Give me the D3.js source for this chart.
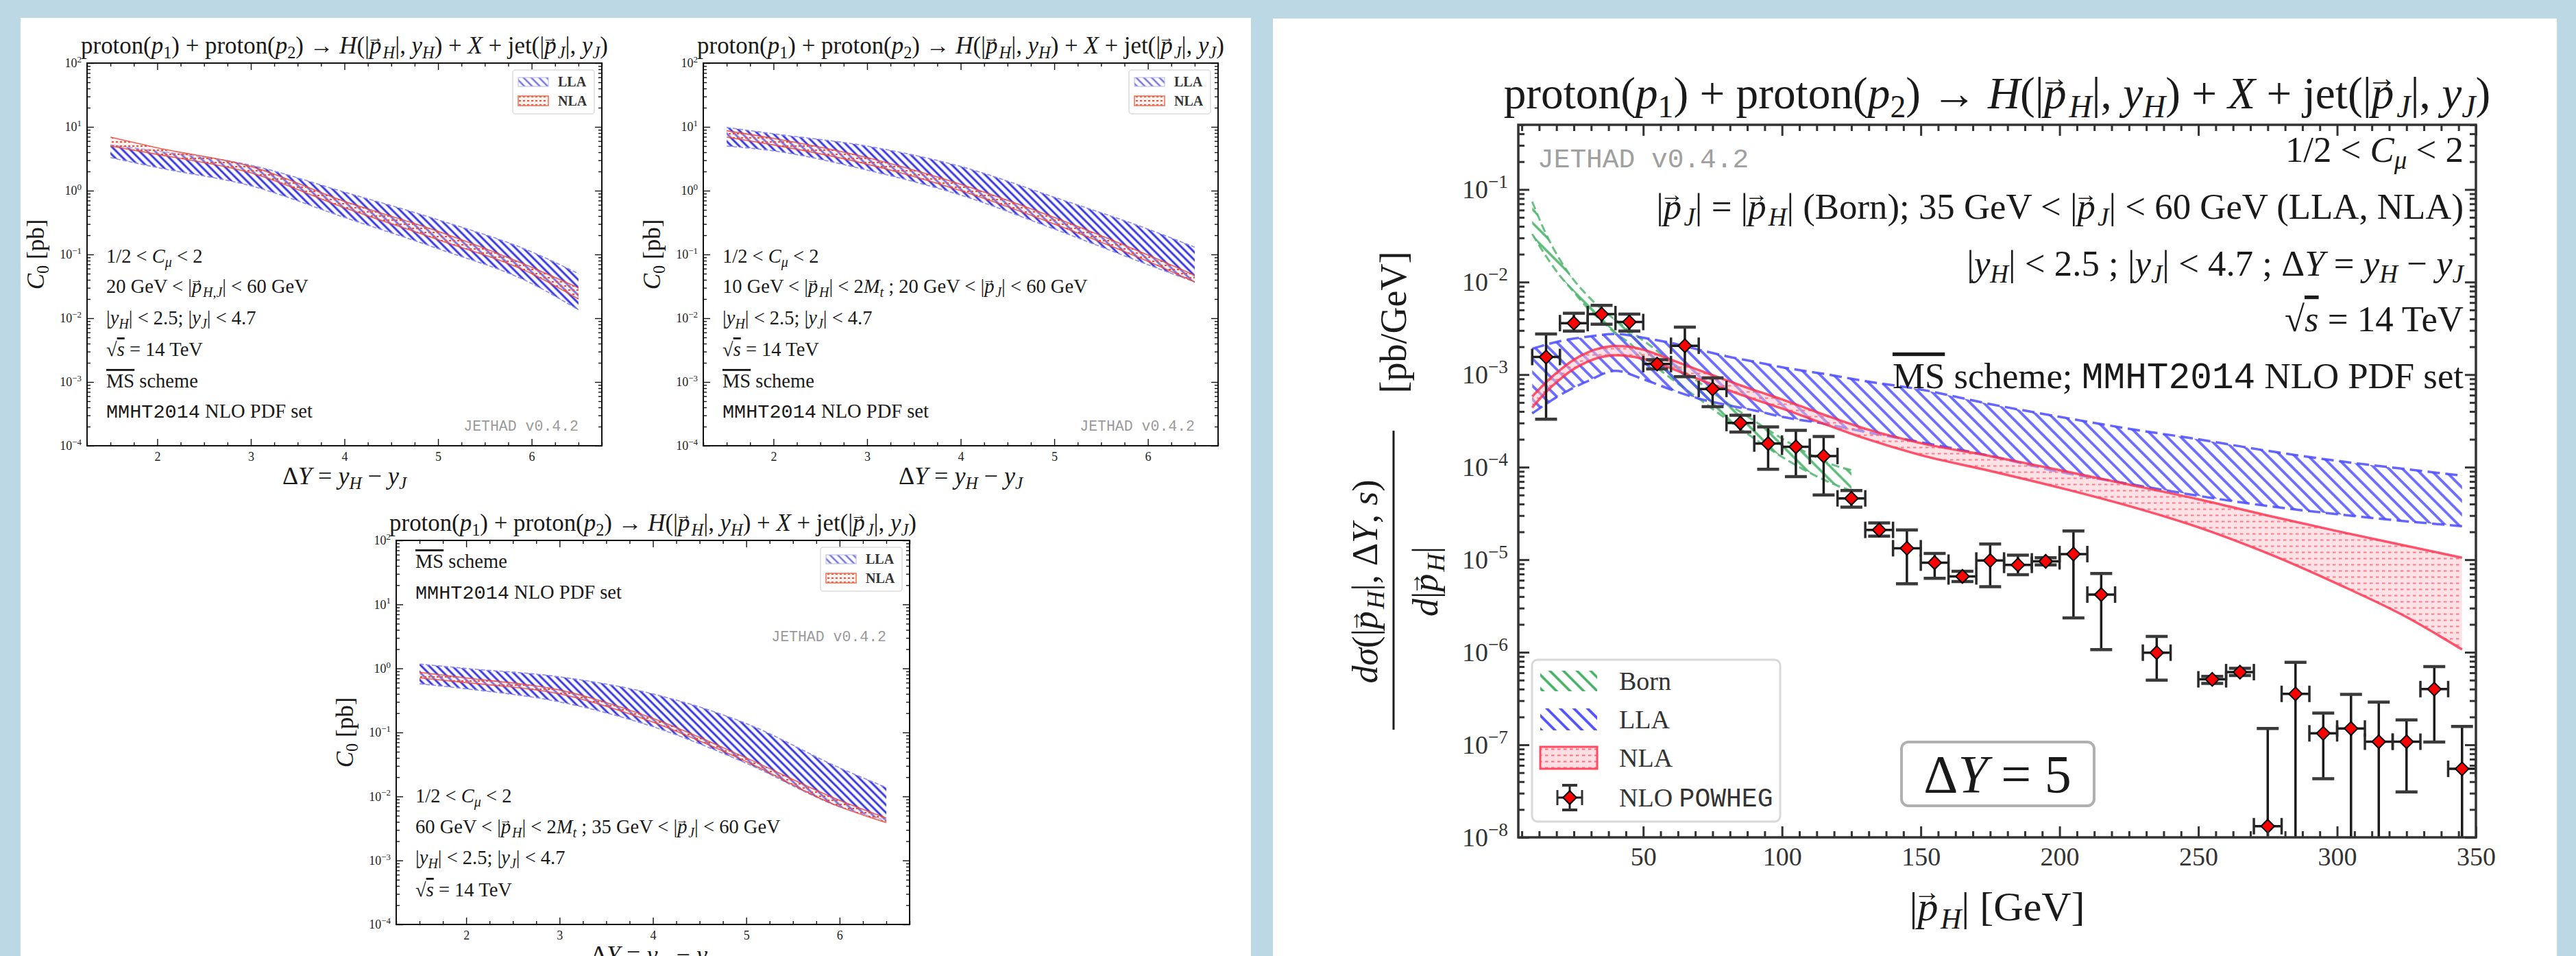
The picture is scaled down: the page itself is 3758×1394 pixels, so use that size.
<!DOCTYPE html>
<html>
<head>
<meta charset="utf-8">
<script src="https://cdn.jsdelivr.net/npm/d3@7"></script>
<style>
  html, body { margin: 0; padding: 0; background: #bcd8e4; }
  svg { display: block; }
</style>
</head>
<body>
<svg id="fig" width="3758" height="1394"></svg>
<script>
// ---------- left block: C0 vs ΔY, three panels ----------
const deltaY = [1.5, 2, 3, 4, 5, 6, 6.5];

// panel A: 20 GeV < |p_H,J| < 60 GeV
const aLlaHi = [5.2, 4.2, 2.5, 0.95, 0.35, 0.11, 0.050];
const aLlaLo = [3.3, 2.3, 1.19, 0.38, 0.123, 0.035, 0.0135];
const aNlaHi = [6.9, 4.7, 2.4, 0.68, 0.23, 0.063, 0.030];
const aNlaLo = [5.0, 3.7, 1.9, 0.54, 0.17, 0.050, 0.020];

// panel B: 10 GeV < |p_H| < 2M_t ; 20 GeV < |p_J| < 60 GeV
const bLlaHi = [9.8, 7.8, 5.0, 2.4, 0.79, 0.25, 0.13];
const bLlaLo = [5.0, 4.2, 2.1, 0.85, 0.25, 0.069, 0.037];
const bNlaHi = [8.7, 6.6, 3.3, 1.26, 0.38, 0.098, 0.047];
const bNlaLo = [6.9, 5.2, 2.6, 1.0, 0.30, 0.078, 0.037];

// panel C: 60 GeV < |p_H| < 2M_t ; 35 GeV < |p_J| < 60 GeV
const cLlaHi = [1.17, 1.0, 0.74, 0.40, 0.138, 0.028, 0.0138];
const cLlaLo = [0.575, 0.48, 0.30, 0.123, 0.033, 0.0069, 0.0042];
const cNlaHi = [0.87, 0.71, 0.46, 0.166, 0.040, 0.0087, 0.0046];
const cNlaLo = [0.71, 0.60, 0.40, 0.145, 0.035, 0.0069, 0.0039];

const dyTicks = [2, 3, 4, 5, 6];

// ---------- right block: dσ/d|p_H| at ΔY = 5 ----------
const bornPt = [10, 15, 20, 25, 30, 35, 40, 45, 50, 60, 70, 80, 90, 100, 110, 120, 125];
const bornHi = [7.4e-2, 3.3e-2, 1.74e-2, 1.05e-2, 7.1e-3, 5.1e-3, 3.9e-3, 3.0e-3, 2.34e-3, 1.38e-3, 8.3e-4, 5.0e-4, 3.16e-4, 2.04e-4, 1.38e-4, 1.02e-4, 9.3e-5];
const bornLo = [3.3e-2, 1.9e-2, 1.17e-2, 7.8e-3, 5.2e-3, 3.8e-3, 2.8e-3, 2.2e-3, 1.58e-3, 9.1e-4, 5.5e-4, 3.3e-4, 2.04e-4, 1.29e-4, 8.7e-5, 6.3e-5, 5.6e-5];

const llaPt = [10, 20, 30, 40, 50, 60, 70, 80, 90, 100, 115, 130, 150, 175, 200, 225, 250, 275, 300, 325, 345];
const llaHi = [1.9e-3, 2.3e-3, 2.57e-3, 2.75e-3, 2.5e-3, 2.2e-3, 1.86e-3, 1.58e-3, 1.38e-3, 1.2e-3, 1.02e-3, 8.5e-4, 6.9e-4, 4.8e-4, 3.5e-4, 2.6e-4, 2.0e-4, 1.5e-4, 1.17e-4, 9.5e-5, 8.1e-5];
const llaLo = [3.8e-4, 6.0e-4, 8.5e-4, 1.1e-3, 8.9e-4, 6.9e-4, 5.5e-4, 4.7e-4, 4.1e-4, 3.5e-4, 2.95e-4, 2.4e-4, 1.86e-4, 1.32e-4, 8.9e-5, 6.6e-5, 4.9e-5, 3.8e-5, 3.1e-5, 2.6e-5, 2.3e-5];

const nlaPt = [10, 15, 20, 25, 30, 35, 40, 45, 50, 60, 70, 80, 90, 100, 115, 130, 150, 175, 200, 225, 250, 275, 300, 325, 345];
const nlaHi = [5.8e-4, 8.3e-4, 1.12e-3, 1.45e-3, 1.74e-3, 1.95e-3, 2.04e-3, 2.0e-3, 1.86e-3, 1.45e-3, 1.12e-3, 8.7e-4, 6.8e-4, 5.4e-4, 3.7e-4, 2.6e-4, 1.82e-4, 1.32e-4, 9.3e-5, 6.5e-5, 4.5e-5, 3.0e-5, 2.04e-5, 1.41e-5, 1.05e-5];
const nlaLo = [4.4e-4, 6.5e-4, 8.9e-4, 1.15e-3, 1.38e-3, 1.55e-3, 1.62e-3, 1.58e-3, 1.48e-3, 1.17e-3, 8.9e-4, 6.9e-4, 5.4e-4, 4.3e-4, 2.95e-4, 2.04e-4, 1.35e-4, 9.1e-5, 6.0e-5, 3.8e-5, 2.24e-5, 1.17e-5, 5.5e-6, 2.4e-6, 1.07e-6];

const powhegPt = [15, 25, 35, 45, 55, 65, 75, 85, 95, 105, 115, 125, 135, 145, 155, 165, 175, 185, 195, 205, 215, 235, 255, 265, 275, 285, 295, 305, 315, 325, 335, 345];
const powhegVal = [1.55e-3, 3.6e-3, 4.5e-3, 3.7e-3, 1.3e-3, 2.05e-3, 7.0e-4, 3.0e-4, 1.8e-4, 1.66e-4, 1.32e-4, 4.6e-5, 2.1e-5, 1.33e-5, 9.3e-6, 6.6e-6, 9.8e-6, 8.8e-6, 9.6e-6, 1.15e-5, 4.2e-6, 9.9e-7, 5.1e-7, 6.1e-7, 1.32e-8, 3.55e-7, 1.33e-7, 1.5e-7, 1.08e-7, 1.08e-7, 4.0e-7, 5.5e-8];
const powhegHi = [2.75e-3, 4.6e-3, 5.6e-3, 4.5e-3, 1.45e-3, 3.26e-3, 9.2e-4, 3.64e-4, 2.72e-4, 2.5e-4, 2.14e-4, 5.6e-5, 2.5e-5, 2.1e-5, 1.17e-5, 7.5e-6, 1.48e-5, 1.12e-5, 1.05e-5, 2.04e-5, 7.1e-6, 1.48e-6, 5.5e-7, 6.7e-7, 1.5e-7, 7.8e-7, 2.2e-7, 3.5e-7, 2.9e-7, 1.86e-7, 7.0e-7, 1.58e-7];
const powhegLo = [3.3e-4, 2.95e-3, 3.5e-3, 2.95e-3, 1.15e-3, 9.5e-4, 4.5e-4, 2.4e-4, 9.5e-5, 7.9e-5, 5.0e-5, 3.7e-5, 1.8e-5, 5.5e-6, 6.3e-6, 5.8e-6, 5.1e-6, 6.9e-6, 8.8e-6, 2.35e-6, 1.07e-6, 5.0e-7, 4.6e-7, 5.6e-7, 1e-9, 1e-9, 4.3e-8, 1e-9, 1e-9, 3.1e-8, 1.07e-7, 1e-9];
const binHalf = 5;

const pTicks = [50, 100, 150, 200, 250, 300, 350];

const SERIF = "'Liberation Serif', 'DejaVu Serif', serif";
const MONO = "'Liberation Mono', 'DejaVu Sans Mono', monospace";

const svg = d3.select("#fig");
const defs = svg.append("defs");

// white cards behind the two blocks
svg.append("rect").attr("x", 30).attr("y", 26).attr("width", 1795).attr("height", 1380).attr("fill", "#fff");
svg.append("rect").attr("x", 1857).attr("y", 27).attr("width", 1873).attr("height", 1380).attr("fill", "#fff");

// ---------- patterns ----------
function hatch(id, size, color, width) {
    const p = defs.append("pattern")
        .attr("id", id)
        .attr("patternUnits", "userSpaceOnUse")
        .attr("width", size).attr("height", size)
        .attr("patternTransform", "rotate(-45)");
    p.append("line")
        .attr("x1", size / 2).attr("y1", -1)
        .attr("x2", size / 2).attr("y2", size + 1)
        .attr("stroke", color).attr("stroke-width", width);
}

function dots(id, size, bg, bgOpacity, color) {
    const p = defs.append("pattern")
        .attr("id", id)
        .attr("patternUnits", "userSpaceOnUse")
        .attr("width", size).attr("height", size);
    p.append("rect").attr("width", size).attr("height", size)
        .attr("fill", bg).attr("fill-opacity", bgOpacity);
    p.append("rect")
        .attr("x", 1).attr("y", size / 2 - 1)
        .attr("width", size / 2).attr("height", 2)
        .attr("fill", color);
}

hatch("llaS", 8, "#2020d8", 3);
hatch("llaLeg", 8, "#7878dc", 2.6);
dots("nlaS", 6, "#fbd6cc", 0.35, "#ee5040");
hatch("llaL", 14, "#5050ff", 3.8);
hatch("bornL", 14, "#3fae60", 3.5);
dots("nlaL", 9, "#ffc4cc", 0.55, "#ff6a7c");

// ---------- text helper (roman / italic / sub / sup / vector / mono / overline) ----------
function rich(parent, x, y, size, segs, opt = {}) {
    const t = parent.append("text")
        .attr("x", x).attr("y", y)
        .attr("font-family", SERIF)
        .attr("font-size", size)
        .attr("text-anchor", opt.anchor || "start")
        .attr("fill", opt.fill || "#1a1a1a");
    let shift = 0;
    segs.forEach(([str, k]) => {
        const small = k.includes("s") || k.includes("u");
        const fs = small ? size * 0.7 : size;
        const target = k.includes("s") ? size * 0.2 : (k.includes("u") ? -size * 0.4 : 0);
        const sp = t.append("tspan")
            .attr("dy", target - shift)
            .attr("font-size", fs)
            .attr("font-style", /[iv]/.test(k) ? "italic" : "normal")
            .text(str);
        if (k.includes("m")) sp.attr("font-family", MONO);
        if (k.includes("o")) sp.attr("text-decoration", "overline");
        shift = target;
        if (k.includes("v")) {
            t.append("tspan")
                .attr("dx", -0.6 * fs).attr("dy", -0.46 * fs)
                .attr("font-size", fs * 0.66).attr("font-style", "normal")
                .text("→");
            shift = target - 0.46 * fs;
        }
    });
    return t;
}

function fitSize(segs, width) {
    const t = rich(svg, 0, -1000, 100, segs);
    const w = t.node().getBBox().width;
    t.remove();
    return 100 * width / w;
}

// ---------- shared text ----------
const titleSegs = [["proton(", ""], ["p", "i"], ["1", "s"], [") + proton(", ""], ["p", "i"], ["2", "s"],
    [") → ", ""], ["H", "i"], ["(|", ""], ["p", "v"], ["H", "si"], ["|, ", ""], ["y", "i"], ["H", "si"],
    [") + ", ""], ["X", "i"], [" + jet(|", ""], ["p", "v"], ["J", "si"], ["|, ", ""], ["y", "i"], ["J", "si"], [")", ""]];
const cmuSegs = [["1/2 < ", ""], ["C", "i"], ["μ", "si"], [" < 2", ""]];
const rapSegs = [["|", ""], ["y", "i"], ["H", "si"], ["| < 2.5;  |", ""], ["y", "i"], ["J", "si"], ["| < 4.7", ""]];
const sqrtSegs = [["√", ""], ["s", "io"], [" = 14 TeV", ""]];
const msSegs = [["MS", "o"], [" scheme", ""]];
const pdfSegs = [["MMHT2014", "m"], [" NLO PDF set", ""]];
const cutA = [["20 GeV < |", ""], ["p", "v"], ["H,J", "si"], ["| < 60 GeV", ""]];
const cutB = [["10 GeV < |", ""], ["p", "v"], ["H", "si"], ["| < 2", ""], ["M", "i"], ["t", "si"],
    [" ; 20 GeV < |", ""], ["p", "v"], ["J", "si"], ["| < 60 GeV", ""]];
const cutC = [["60 GeV < |", ""], ["p", "v"], ["H", "si"], ["| < 2", ""], ["M", "i"], ["t", "si"],
    [" ; 35 GeV < |", ""], ["p", "v"], ["J", "si"], ["| < 60 GeV", ""]];

const smallTitleSize = fitSize(titleSegs, 769);
const smallAnnSize = fitSize(cutB, 533);

const isPow10 = d => Math.abs(Math.log10(d) - Math.round(Math.log10(d))) < 1e-9;

function supLabels(sel, supSize) {
    sel.selectAll(".tick text").each(function (d) {
        const e = Math.round(Math.log10(d));
        const t = d3.select(this).text("10");
        t.append("tspan").attr("dy", "-0.55em").attr("font-size", supSize)
            .text(e < 0 ? "−" + (-e) : String(e));
    });
}

// inward ticks on all four sides, plus frame
function frame(g, x, y, o) {
    const [L, R] = x.range();
    const [B, T] = y.range();
    const yAll = y.ticks();
    const yMajor = yAll.filter(isPow10);
    const yMinor = yAll.filter(d => !isPow10(d));

    g.append("g").attr("transform", `translate(0,${B})`)
        .call(d3.axisBottom(x).tickValues(o.xMajor).tickSizeInner(-o.big).tickSizeOuter(0)
            .tickPadding(o.xPad).tickFormat(d3.format("d")));
    g.append("g").attr("transform", `translate(0,${B})`)
        .call(d3.axisBottom(x).tickValues(o.xMinor).tickSizeInner(-o.small).tickSizeOuter(0).tickFormat(""));
    g.append("g").attr("transform", `translate(0,${T})`)
        .call(d3.axisTop(x).tickValues(o.xMajor).tickSizeInner(-o.big).tickSizeOuter(0).tickFormat(""));
    g.append("g").attr("transform", `translate(0,${T})`)
        .call(d3.axisTop(x).tickValues(o.xMinor).tickSizeInner(-o.small).tickSizeOuter(0).tickFormat(""));

    const left = g.append("g").attr("transform", `translate(${L},0)`)
        .call(d3.axisLeft(y).tickValues(yMajor).tickSizeInner(-o.big).tickSizeOuter(0).tickPadding(o.yPad));
    g.append("g").attr("transform", `translate(${L},0)`)
        .call(d3.axisLeft(y).tickValues(yMinor).tickSizeInner(-o.small).tickSizeOuter(0).tickFormat(""));
    g.append("g").attr("transform", `translate(${R},0)`)
        .call(d3.axisRight(y).tickValues(yMajor).tickSizeInner(-o.big).tickSizeOuter(0).tickFormat(""));
    g.append("g").attr("transform", `translate(${R},0)`)
        .call(d3.axisRight(y).tickValues(yMinor).tickSizeInner(-o.small).tickSizeOuter(0).tickFormat(""));

    g.selectAll(".domain").remove();
    g.selectAll(".tick line").attr("stroke", o.color).attr("stroke-width", o.tickWidth);
    g.selectAll(".tick text").attr("font-family", SERIF).attr("font-size", o.labelSize).attr("fill", o.labelColor);
    supLabels(left, o.labelSize * 0.72);

    g.append("rect")
        .attr("x", L).attr("y", T).attr("width", R - L).attr("height", B - T)
        .attr("fill", "none").attr("stroke", o.color).attr("stroke-width", o.frameWidth);
}

// ---------- small panels ----------
function smallPanel(p) {
    const g = svg.append("g");
    const x = d3.scaleLinear().domain([1.25, 6.75]).range([p.left, p.right]);
    const y = d3.scaleLog().domain([1e-4, 1e2]).range([p.bottom, p.top]);

    const clipId = "clip" + p.id;
    defs.append("clipPath").attr("id", clipId)
        .append("rect").attr("x", p.left).attr("y", p.top)
        .attr("width", p.right - p.left).attr("height", p.bottom - p.top);
    const plot = g.append("g").attr("clip-path", `url(#${clipId})`);

    const band = (hi, lo) => d3.area().curve(d3.curveMonotoneX)
        .x((d, i) => x(deltaY[i])).y0((d, i) => y(lo[i])).y1((d, i) => y(hi[i]));
    const edge = arr => d3.line().curve(d3.curveMonotoneX).x((d, i) => x(deltaY[i])).y((d, i) => y(arr[i]));

    plot.append("path").datum(deltaY).attr("d", band(p.llaHi, p.llaLo)).attr("fill", "url(#llaS)").attr("opacity", 0.9);
    [p.llaHi, p.llaLo].forEach(arr => plot.append("path").datum(deltaY).attr("d", edge(arr))
        .attr("fill", "none").attr("stroke", "#8d8df0").attr("stroke-width", 1.6).attr("stroke-dasharray", "6,3"));
    plot.append("path").datum(deltaY).attr("d", band(p.nlaHi, p.nlaLo)).attr("fill", "url(#nlaS)");
    [p.nlaHi, p.nlaLo].forEach(arr => plot.append("path").datum(deltaY).attr("d", edge(arr))
        .attr("fill", "none").attr("stroke", "#f0453a").attr("stroke-width", 1.6).attr("opacity", 0.85));

    frame(g, x, y, {
        xMajor: dyTicks,
        xMinor: d3.range(1.25, 6.76, 0.25).filter(d => Math.abs(d - Math.round(d)) > 1e-6),
        big: 10, small: 5, xPad: 9, yPad: 8,
        color: "#111", tickWidth: 1.4, frameWidth: 2,
        labelSize: 18, labelColor: "#222"
    });

    // titles and axis labels
    rich(g, (p.left + p.right) / 2, p.top - 14, smallTitleSize, titleSegs, {anchor: "middle"});
    rich(g, (p.left + p.right) / 2, p.bottom + 56, 36,
        [["Δ", ""], ["Y", "i"], [" = ", ""], ["y", "i"], ["H", "si"], [" − ", ""], ["y", "i"], ["J", "si"]],
        {anchor: "middle"});
    const yl = g.append("g").attr("transform", `translate(${p.left - 63},${(p.top + p.bottom) / 2}) rotate(-90)`);
    rich(yl, 0, 0, 35, [["C", "i"], ["0", "s"], [" [pb]", ""]], {anchor: "middle"});

    // annotations
    p.lines.forEach(([segs, dy]) => rich(g, p.left + 28, p.top + dy + 7, smallAnnSize, segs));
    g.append("text")
        .attr("x", p.right - 34).attr("y", p.top + p.jetY + 7)
        .attr("text-anchor", "end").attr("font-family", MONO).attr("font-size", 21.5)
        .attr("fill", "#9a9a9a").text("JETHAD v0.4.2");

    // legend
    const lx = p.right - 130, ly = p.top + 10;
    g.append("rect").attr("x", lx).attr("y", ly).attr("width", 119).attr("height", 64)
        .attr("rx", 4).attr("fill", "#fff").attr("fill-opacity", 0.85)
        .attr("stroke", "#dcdcdc").attr("stroke-width", 1.5);
    g.append("rect").attr("x", lx + 8).attr("y", ly + 11).attr("width", 44).attr("height", 13)
        .attr("fill", "url(#llaLeg)").attr("stroke", "#b8b8ee").attr("stroke-width", 1);
    g.append("rect").attr("x", lx + 8).attr("y", ly + 38).attr("width", 44).attr("height", 14)
        .attr("fill", "url(#nlaS)").attr("stroke", "#f07858").attr("stroke-width", 1.6);
    ["LLA", "NLA"].forEach((s, i) => g.append("text")
        .attr("x", lx + 66).attr("y", ly + 24 + i * 28)
        .attr("font-family", SERIF).attr("font-size", 20).attr("font-weight", "bold")
        .attr("fill", "#333").text(s));
}

smallPanel({
    id: "A", left: 127, right: 878, top: 92, bottom: 650,
    llaHi: aLlaHi, llaLo: aLlaLo, nlaHi: aNlaHi, nlaLo: aNlaLo,
    lines: [[cmuSegs, 284], [cutA, 328], [rapSegs, 374], [sqrtSegs, 420], [msSegs, 466], [pdfSegs, 510]],
    jetY: 529
});
smallPanel({
    id: "B", left: 1026, right: 1777, top: 92, bottom: 650,
    llaHi: bLlaHi, llaLo: bLlaLo, nlaHi: bNlaHi, nlaLo: bNlaLo,
    lines: [[cmuSegs, 284], [cutB, 328], [rapSegs, 374], [sqrtSegs, 420], [msSegs, 466], [pdfSegs, 510]],
    jetY: 529
});
smallPanel({
    id: "C", left: 578, right: 1327, top: 788, bottom: 1348,
    llaHi: cLlaHi, llaLo: cLlaLo, nlaHi: cNlaHi, nlaLo: cNlaLo,
    lines: [[msSegs, 33], [pdfSegs, 78], [cmuSegs, 375], [cutC, 420], [rapSegs, 465], [sqrtSegs, 512]],
    jetY: 140
});

// ---------- big panel ----------
(function bigPanel() {
    const P = {left: 2215, right: 3612, top: 182, bottom: 1221};
    const g = svg.append("g");
    const x = d3.scaleLinear().domain([5, 350]).range([P.left, P.right]);
    const y = d3.scaleLog().domain([1e-8, 0.5]).range([P.bottom, P.top]);

    defs.append("clipPath").attr("id", "clipBig")
        .append("rect").attr("x", P.left).attr("y", P.top)
        .attr("width", P.right - P.left).attr("height", P.bottom - P.top);
    const plot = g.append("g").attr("clip-path", "url(#clipBig)");

    const band = (xs, hi, lo) => d3.area().curve(d3.curveMonotoneX)
        .x((d, i) => x(xs[i])).y0((d, i) => y(lo[i])).y1((d, i) => y(hi[i]));
    const edge = (xs, arr) => d3.line().curve(d3.curveMonotoneX)
        .x((d, i) => x(xs[i])).y((d, i) => y(arr[i]));

    // Born
    plot.append("path").datum(bornPt).attr("d", band(bornPt, bornHi, bornLo)).attr("fill", "url(#bornL)").attr("opacity", 0.85);
    [bornHi, bornLo].forEach(arr => plot.append("path").datum(bornPt).attr("d", edge(bornPt, arr))
        .attr("fill", "none").attr("stroke", "#46b066").attr("stroke-width", 3).attr("stroke-dasharray", "12,6").attr("opacity", 0.8));
    // LLA
    plot.append("path").datum(llaPt).attr("d", band(llaPt, llaHi, llaLo)).attr("fill", "url(#llaL)").attr("opacity", 0.85);
    [llaHi, llaLo].forEach(arr => plot.append("path").datum(llaPt).attr("d", edge(llaPt, arr))
        .attr("fill", "none").attr("stroke", "#4a4aff").attr("stroke-width", 3.5).attr("stroke-dasharray", "18,8").attr("opacity", 0.85));
    // NLA
    plot.append("path").datum(nlaPt).attr("d", band(nlaPt, nlaHi, nlaLo)).attr("fill", "url(#nlaL)").attr("opacity", 0.9);
    [nlaHi, nlaLo].forEach(arr => plot.append("path").datum(nlaPt).attr("d", edge(nlaPt, arr))
        .attr("fill", "none").attr("stroke", "#ff2a48").attr("stroke-width", 3.5).attr("opacity", 0.8));

    // NLO POWHEG points
    const pts = powhegPt.map((p, i) => ({p, v: powhegVal[i], hi: powhegHi[i], lo: powhegLo[i]}));
    const eb = plot.append("g").selectAll("g").data(pts).join("g");
    eb.append("line")
        .attr("x1", d => x(d.p)).attr("x2", d => x(d.p))
        .attr("y1", d => y(d.hi)).attr("y2", d => y(d.lo))
        .attr("stroke", "#1c1c1c").attr("stroke-width", 3.5);
    ["hi", "lo"].forEach(k => eb.append("line")
        .attr("x1", d => x(d.p) - 16).attr("x2", d => x(d.p) + 16)
        .attr("y1", d => y(d[k])).attr("y2", d => y(d[k]))
        .attr("stroke", "#3a3a3a").attr("stroke-width", 4.5));
    eb.append("line")
        .attr("x1", d => x(d.p - binHalf)).attr("x2", d => x(d.p + binHalf))
        .attr("y1", d => y(d.v)).attr("y2", d => y(d.v))
        .attr("stroke", "#1c1c1c").attr("stroke-width", 3.5);
    [-binHalf, binHalf].forEach(s => eb.append("line")
        .attr("x1", d => x(d.p + s)).attr("x2", d => x(d.p + s))
        .attr("y1", d => y(d.v) - 12).attr("y2", d => y(d.v) + 12)
        .attr("stroke", "#2a2a2a").attr("stroke-width", 3.5));
    const diamond = d3.symbol().type(d3.symbolSquare).size(190);
    eb.append("path")
        .attr("d", diamond)
        .attr("transform", d => `translate(${x(d.p)},${y(d.v)}) rotate(45)`)
        .attr("fill", "#ff0000").attr("stroke", "#000").attr("stroke-width", 2);

    frame(g, x, y, {
        xMajor: pTicks,
        xMinor: d3.range(6.25, 350, 6.25).filter(d => d % 50 !== 0),
        big: 16, small: 9, xPad: 14, yPad: 15,
        color: "#333", tickWidth: 3, frameWidth: 3.5,
        labelSize: 38, labelColor: "#333"
    });

    // title
    const bigTitleSize = fitSize(titleSegs, 1440);
    rich(g, (P.left + P.right) / 2, 158, bigTitleSize, titleSegs, {anchor: "middle"});

    // JETHAD tag
    g.append("text")
        .attr("x", P.left + 28).attr("y", P.top + 62)
        .attr("font-family", MONO).attr("font-size", 39.5)
        .attr("fill", "#a0a0a0").text("JETHAD v0.4.2");

    // annotations, right aligned
    const bigCut = [["|", ""], ["p", "v"], ["J", "si"], ["| = |", ""], ["p", "v"], ["H", "si"], ["| (Born); 35 GeV < |", ""],
        ["p", "v"], ["J", "si"], ["| < 60 GeV (LLA, NLA)", ""]];
    const bigRap = [["|", ""], ["y", "i"], ["H", "si"], ["| < 2.5 ; |", ""], ["y", "i"], ["J", "si"], ["| < 4.7 ; Δ", ""],
        ["Y", "i"], [" = ", ""], ["y", "i"], ["H", "si"], [" − ", ""], ["y", "i"], ["J", "si"]];
    const bigMs = [["MS", "o"], [" scheme; ", ""], ["MMHT2014", "m"], [" NLO PDF set", ""]];
    const annSize = fitSize(bigCut, 1178);
    [[cmuSegs, 37], [bigCut, 120], [bigRap, 203], [sqrtSegs, 284], [bigMs, 367]].forEach(([segs, dy]) =>
        rich(g, P.right - 18, P.top + dy + annSize * 0.32, annSize, segs, {anchor: "end"}));

    // axis labels
    rich(g, (P.left + P.right) / 2, 1342, 60,
        [["|", ""], ["p", "v"], ["H", "si"], ["| [GeV]", ""]], {anchor: "middle"});
    const yl = g.append("g").attr("transform", "translate(2033,701) rotate(-90)");
    rich(yl, -147, -24, 52,
        [["d", "i"], ["σ", "i"], ["(|", ""], ["p", "v"], ["H", "si"], ["|, Δ", ""], ["Y", "i"], [", ", ""], ["s", "i"], [")", ""]],
        {anchor: "middle"});
    yl.append("line").attr("x1", -363).attr("x2", 73).attr("y1", 0).attr("y2", 0)
        .attr("stroke", "#1a1a1a").attr("stroke-width", 3);
    rich(yl, -147, 64, 52, [["d", "i"], ["|", ""], ["p", "v"], ["H", "si"], ["|", ""]], {anchor: "middle"});
    rich(yl, 231, 18, 54, [["[pb/GeV]", ""]], {anchor: "middle"});

    // legend
    const lg = g.append("g").attr("transform", "translate(2235,962)");
    lg.append("rect").attr("width", 362).attr("height", 236).attr("rx", 8)
        .attr("fill", "#fff").attr("fill-opacity", 0.9).attr("stroke", "#d8d8d8").attr("stroke-width", 3);
    const rows = [31, 87, 143, 201];
    lg.append("rect").attr("x", 12).attr("y", rows[0] - 15).attr("width", 83).attr("height", 30).attr("fill", "url(#bornL)");
    lg.append("rect").attr("x", 12).attr("y", rows[1] - 16).attr("width", 83).attr("height", 32).attr("fill", "url(#llaL)");
    lg.append("rect").attr("x", 12).attr("y", rows[2] - 16).attr("width", 83).attr("height", 32)
        .attr("fill", "url(#nlaL)").attr("stroke", "#ff4a60").attr("stroke-width", 3);
    const mk = lg.append("g").attr("transform", `translate(55,${rows[3]})`);
    mk.append("line").attr("x1", 0).attr("x2", 0).attr("y1", -18).attr("y2", 18).attr("stroke", "#1c1c1c").attr("stroke-width", 3);
    mk.append("line").attr("x1", -18).attr("x2", 18).attr("y1", 0).attr("y2", 0).attr("stroke", "#1c1c1c").attr("stroke-width", 3);
    [-18, 18].forEach(s => {
        mk.append("line").attr("x1", -11).attr("x2", 11).attr("y1", s).attr("y2", s).attr("stroke", "#333").attr("stroke-width", 4);
        mk.append("line").attr("x1", s).attr("x2", s).attr("y1", -11).attr("y2", 11).attr("stroke", "#333").attr("stroke-width", 3);
    });
    mk.append("path").attr("d", diamond).attr("transform", "rotate(45)")
        .attr("fill", "#ff0000").attr("stroke", "#000").attr("stroke-width", 2);
    [[["Born", ""]], [["LLA", ""]], [["NLA", ""]], [["NLO ", ""], ["POWHEG", "m"]]].forEach((segs, i) =>
        rich(lg, 127, rows[i] + 13, 38, segs, {fill: "#333"}));

    // ΔY = 5 box
    g.append("rect").attr("x", 2774).attr("y", 1082).attr("width", 281).attr("height", 93).attr("rx", 10)
        .attr("fill", "#fff").attr("stroke", "#b0b0b0").attr("stroke-width", 4);
    rich(g, 2914, 1155, 78, [["Δ", ""], ["Y", "i"], [" = 5", ""]], {anchor: "middle"});
})();
</script>
</body>
</html>
